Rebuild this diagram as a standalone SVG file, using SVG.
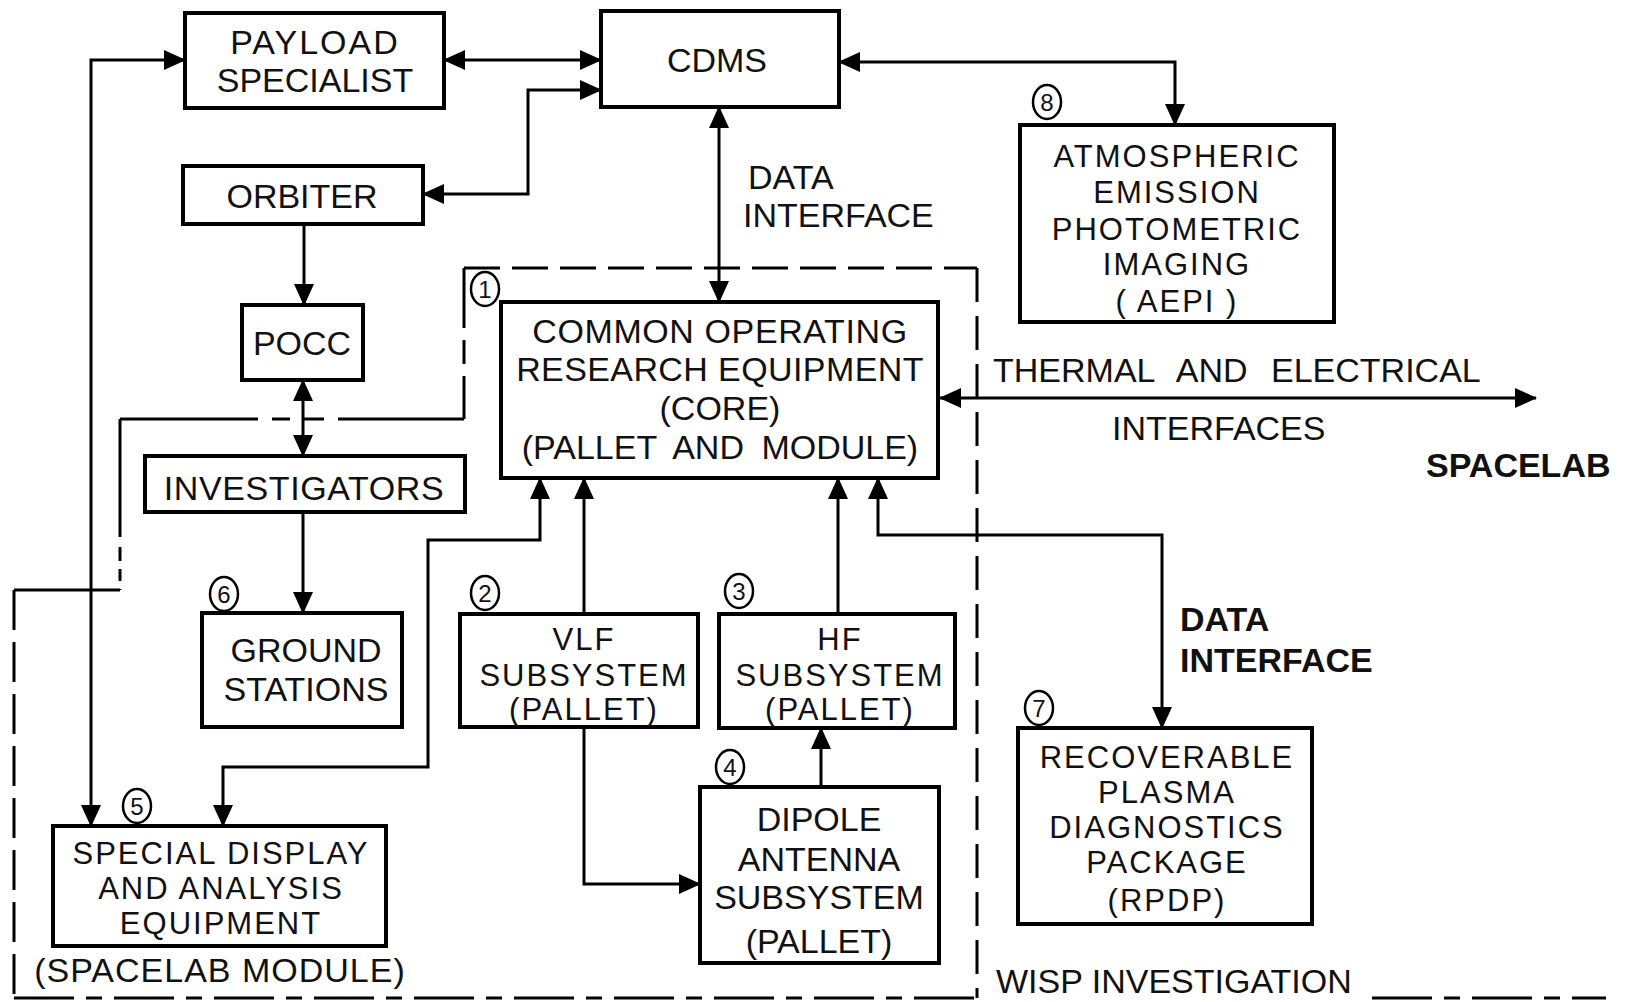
<svg xmlns="http://www.w3.org/2000/svg" width="1630" height="1002" viewBox="0 0 1630 1002">
<style>
.box{fill:#fff;stroke:#000;stroke-width:4}
.conn{fill:none;stroke:#000;stroke-width:3}
.bnd{fill:none;stroke:#000;stroke-width:3}
.t{font-family:"Liberation Sans",Arial,sans-serif;font-size:34px;fill:#111;text-anchor:middle}
.t2{font-family:"Liberation Sans",Arial,sans-serif;font-size:31px;letter-spacing:2px;fill:#111;text-anchor:middle}
.l{font-family:"Liberation Sans",Arial,sans-serif;font-size:34px;fill:#111}
.b{font-weight:bold}
.num{font-family:"Liberation Sans",Arial,sans-serif;font-size:24px;fill:#111;text-anchor:middle}
.circ{fill:#fff;stroke:#000;stroke-width:2.5}
</style>
<defs>
<marker id="ah" viewBox="0 0 22 20" refX="21" refY="10" markerWidth="22" markerHeight="20" markerUnits="userSpaceOnUse" orient="auto-start-reverse"><path d="M0,0 L22,10 L0,20 z" fill="#000"/></marker>
</defs>
<rect x="0" y="0" width="1630" height="1002" fill="#fff"/>

<g id="boundary">
<path class="bnd" d="M464,268 H977" stroke-dasharray="36 12"/>
<path class="bnd" d="M977,268 V998" stroke-dasharray="34 14"/>
<path class="bnd" d="M464,268 V419" stroke-dasharray="60 12 24 12"/>
<path class="bnd" d="M464,419 H120" stroke-dasharray="126 14 20 14 18 14 400"/>
<path class="bnd" d="M120,419 V590" stroke-dasharray="118 10 14 8 12 8 40"/>
<path class="bnd" d="M120,590 H14"/>
<path class="bnd" d="M14,590 V998" stroke-dasharray="40 12"/>
<path class="bnd" d="M14,998 H977" stroke-dasharray="60 12 16 12"/>
<path class="bnd" d="M1372,998 H1606" stroke-dasharray="60 12 16 12"/>
</g>

<g id="connectors">
<path class="conn" d="M444,60 H601" marker-start="url(#ah)" marker-end="url(#ah)"/>
<path class="conn" d="M423,194 H528 V90 H601" marker-start="url(#ah)" marker-end="url(#ah)"/>
<path class="conn" d="M839,62 H1175 V125" marker-start="url(#ah)" marker-end="url(#ah)"/>
<path class="conn" d="M719,107 V302" marker-start="url(#ah)" marker-end="url(#ah)"/>
<path class="conn" d="M304,225 V305" marker-end="url(#ah)"/>
<path class="conn" d="M303,380 V456" marker-start="url(#ah)" marker-end="url(#ah)"/>
<path class="conn" d="M303,512 V613" marker-end="url(#ah)"/>
<path class="conn" d="M185,60 H91 V826" marker-start="url(#ah)" marker-end="url(#ah)"/>
<path class="conn" d="M540,478 V540 H428 V767 H223 V826" marker-start="url(#ah)" marker-end="url(#ah)"/>
<path class="conn" d="M584,614 V478" marker-end="url(#ah)"/>
<path class="conn" d="M584,727 V884 H700" marker-end="url(#ah)"/>
<path class="conn" d="M838,614 V478" marker-end="url(#ah)"/>
<path class="conn" d="M821,787 V728" marker-end="url(#ah)"/>
<path class="conn" d="M878,478 V535 H1162 V728" marker-start="url(#ah)" marker-end="url(#ah)"/>
<path class="conn" d="M940,398 H1536" marker-start="url(#ah)" marker-end="url(#ah)"/>
</g>

<g id="payload">
<rect class="box" x="185" y="13" width="259" height="95"/>
<text class="t" x="315" y="54" letter-spacing="2">PAYLOAD</text>
<text class="t" x="315" y="92">SPECIALIST</text>
</g>
<g id="cdms">
<rect class="box" x="601" y="11" width="238" height="96"/>
<text class="t" x="717" y="72">CDMS</text>
</g>
<g id="orbiter">
<rect class="box" x="183" y="166" width="240" height="58"/>
<text class="t" x="302" y="208">ORBITER</text>
</g>
<g id="pocc">
<rect class="box" x="242" y="305" width="121" height="75"/>
<text class="t" x="302" y="355">POCC</text>
</g>
<g id="investigators">
<rect class="box" x="145" y="456" width="320" height="56"/>
<text class="t" x="304" y="500" letter-spacing="0.6">INVESTIGATORS</text>
</g>
<g id="ground">
<rect class="box" x="202" y="613" width="200" height="114"/>
<text class="t" x="306" y="662">GROUND</text>
<text class="t" x="306" y="701">STATIONS</text>
<ellipse class="circ" cx="224" cy="594" rx="14" ry="17"/>
<text class="num" x="224" y="603">6</text>
</g>
<g id="core">
<rect class="box" x="501" y="302" width="437" height="176"/>
<text class="t" x="720" y="343" letter-spacing="0.6">COMMON OPERATING</text>
<text class="t" x="720" y="381" letter-spacing="0.4">RESEARCH EQUIPMENT</text>
<text class="t" x="720" y="420">(CORE)</text>
<text class="t" x="720" y="459" word-spacing="8">(PALLET AND MODULE)</text>
<ellipse class="circ" cx="485" cy="289" rx="14" ry="17"/>
<text class="num" x="485" y="298">1</text>
</g>
<g id="vlf">
<rect class="box" x="460" y="614" width="238" height="113"/>
<text class="t2" x="584" y="650">VLF</text>
<text class="t2" x="584" y="686">SUBSYSTEM</text>
<text class="t2" x="584" y="720">(PALLET)</text>
<ellipse class="circ" cx="485" cy="593" rx="14" ry="17"/>
<text class="num" x="485" y="602">2</text>
</g>
<g id="hf">
<rect class="box" x="719" y="614" width="236" height="114"/>
<text class="t2" x="840" y="650">HF</text>
<text class="t2" x="840" y="686">SUBSYSTEM</text>
<text class="t2" x="840" y="720">(PALLET)</text>
<ellipse class="circ" cx="739" cy="591" rx="14" ry="17"/>
<text class="num" x="739" y="600">3</text>
</g>
<g id="dipole">
<rect class="box" x="700" y="787" width="239" height="176"/>
<text class="t" x="819" y="831">DIPOLE</text>
<text class="t" x="819" y="871">ANTENNA</text>
<text class="t" x="819" y="909">SUBSYSTEM</text>
<text class="t" x="819" y="953">(PALLET)</text>
<ellipse class="circ" cx="730" cy="767" rx="14" ry="17"/>
<text class="num" x="730" y="776">4</text>
</g>
<g id="special">
<rect class="box" x="53" y="826" width="333" height="120"/>
<text class="t2" x="221" y="864">SPECIAL DISPLAY</text>
<text class="t2" x="221" y="899">AND ANALYSIS</text>
<text class="t2" x="221" y="934">EQUIPMENT</text>
<text class="t" x="220" y="982" letter-spacing="1">(SPACELAB MODULE)</text>
<ellipse class="circ" cx="137" cy="806" rx="14" ry="17"/>
<text class="num" x="137" y="815">5</text>
</g>
<g id="aepi">
<rect class="box" x="1020" y="125" width="314" height="197"/>
<text class="t2" x="1177" y="167">ATMOSPHERIC</text>
<text class="t2" x="1177" y="203">EMISSION</text>
<text class="t2" x="1177" y="240">PHOTOMETRIC</text>
<text class="t2" x="1177" y="275">IMAGING</text>
<text class="t2" x="1177" y="312">( AEPI )</text>
<ellipse class="circ" cx="1047" cy="102" rx="14" ry="17"/>
<text class="num" x="1047" y="111">8</text>
</g>
<g id="rpdp">
<rect class="box" x="1018" y="728" width="294" height="196"/>
<text class="t2" x="1167" y="768">RECOVERABLE</text>
<text class="t2" x="1167" y="803">PLASMA</text>
<text class="t2" x="1167" y="838">DIAGNOSTICS</text>
<text class="t2" x="1167" y="873">PACKAGE</text>
<text class="t2" x="1167" y="911">(RPDP)</text>
<ellipse class="circ" cx="1039" cy="708" rx="14" ry="17"/>
<text class="num" x="1039" y="717">7</text>
</g>

<g id="labels">
<text class="l" x="748" y="189">DATA</text>
<text class="l" x="743" y="227">INTERFACE</text>
<text class="l" x="993" y="382" word-spacing="14">THERMAL AND ELECTRICAL</text>
<text class="l" x="1112" y="440">INTERFACES</text>
<text class="l b" x="1426" y="477">SPACELAB</text>
<text class="l b" x="1180" y="631">DATA</text>
<text class="l b" x="1180" y="672">INTERFACE</text>
<text class="l" x="996" y="993">WISP INVESTIGATION</text>
</g>
</svg>
